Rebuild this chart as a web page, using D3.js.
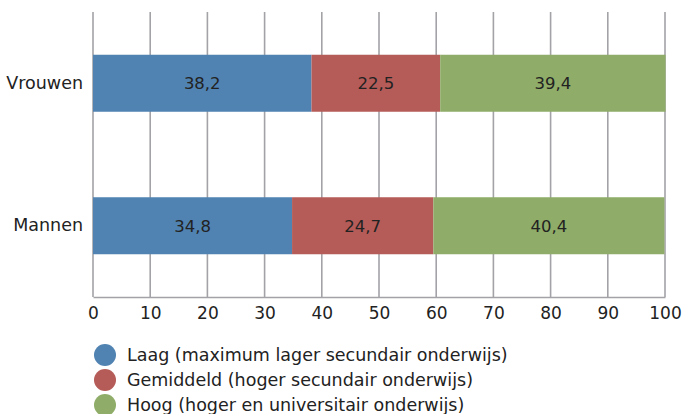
<!DOCTYPE html>
<html><head><meta charset="utf-8">
<script src="https://cdn.jsdelivr.net/npm/d3@7"></script>
<style>body{margin:0;background:#fff}svg{display:block}text{font-family:"DejaVu Sans",sans-serif}</style>
</head><body><svg id="c" width="684" height="414"></svg>
<script>
const categories = ["Vrouwen", "Mannen"];
const seriesNames = ["Laag (maximum lager secundair onderwijs)", "Gemiddeld (hoger secundair onderwijs)", "Hoog (hoger en universitair onderwijs)"];
const laag = [38.2, 34.8];
const gemiddeld = [22.5, 24.7];
const hoog = [39.4, 40.4];
const xTicks = [0,10,20,30,40,50,60,70,80,90,100];
const colors = ["#5083b2", "#b55c58", "#8fad68"];

const svg = d3.select("#c");
const x = d3.scaleLinear().domain([0,100]).range([93,665]);
const y = d3.scaleBand().domain(categories).range([12,297]).paddingInner(0.6).paddingOuter(0.3);
const fmt = v => d3.format(".1f")(v).replace(".", ",");

// gridlines
svg.append("g").selectAll("line").data(xTicks).join("line")
  .attr("x1", d=>x(d)).attr("x2", d=>x(d)).attr("y1", 12).attr("y2", 297)
  .attr("stroke", "#a3a3a7").attr("stroke-width", 1.6);

const series = [laag, gemiddeld, hoog];
const rows = categories.map((c,i)=>{
  let acc = 0;
  return series.map((s,k)=>{ const r = {cat:c, k, v:s[i], x0:acc, x1:acc+s[i]}; acc += s[i]; return r; });
}).flat();

svg.append("g").selectAll("rect").data(rows).join("rect")
  .attr("x", d=>x(d.x0)).attr("width", d=>x(d.x1)-x(d.x0))
  .attr("y", d=>y(d.cat)).attr("height", y.bandwidth())
  .attr("fill", d=>colors[d.k]);

svg.append("g").selectAll("text").data(rows).join("text")
  .attr("x", d=>(x(d.x0)+x(d.x1))/2).attr("y", d=>y(d.cat)+y.bandwidth()/2)
  .attr("dy", "0.35em").attr("text-anchor", "middle")
  .attr("font-size", 16.5).attr("fill", "#222").text(d=>fmt(d.v));

// bottom axis
const xa = svg.append("g").attr("transform", "translate(0,297)")
  .call(d3.axisBottom(x).tickValues(xTicks).tickSize(0).tickPadding(10).tickFormat(d3.format("d")));
xa.select(".domain").attr("stroke", "#a3a3a7").attr("stroke-width", 1.6);
xa.selectAll("text").attr("font-size", 17).attr("fill", "#222").style("font-family", "DejaVu Sans");

// left axis
const ya = svg.append("g").attr("transform", "translate(93,0)")
  .call(d3.axisLeft(y).tickSize(0).tickPadding(10));
ya.select(".domain").remove();
ya.selectAll("text").attr("font-size", 17.5).attr("fill", "#222").style("font-family", "DejaVu Sans");

// legend
const lg = svg.append("g").selectAll("g").data(seriesNames).join("g")
  .attr("transform", (d,i)=>`translate(105,${355+i*25})`);
lg.append("circle").attr("r", 11).attr("fill", (d,i)=>colors[i]);
lg.append("text").attr("x", 22).attr("dy", "0.35em").attr("font-size", 17.5).attr("fill", "#222").text(d=>d);
</script></body></html>
